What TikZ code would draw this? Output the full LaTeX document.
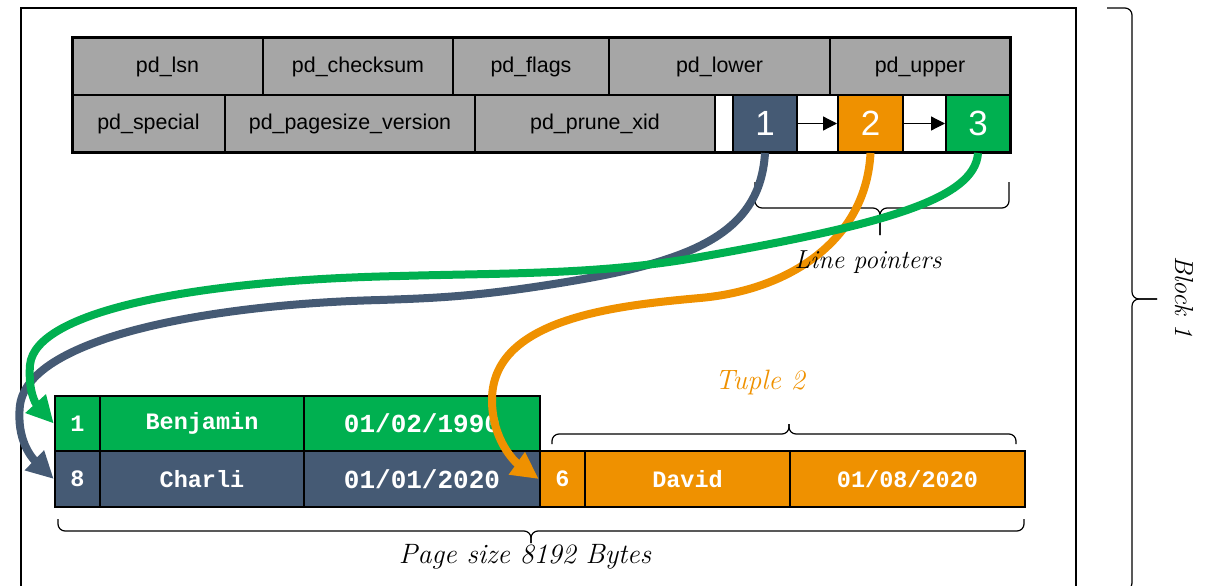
\documentclass[tikz,border=0pt]{standalone}
\usepackage{fontspec}
\newfontfamily\hdrfont{Liberation Sans}
\newfontfamily\monofont{Liberation Mono}
\usetikzlibrary{arrows.meta}
\definecolor{slate}{HTML}{455A74}
\definecolor{amber}{HTML}{EF9100}
\definecolor{leaf}{HTML}{00B050}
\definecolor{hdrgray}{HTML}{A6A6A6}
\tikzset{
  cell/.style={draw=black, line width=2pt, inner sep=0pt, rectangle},
  hcell/.style={cell, fill=hdrgray, font=\hdrfont\fontsize{21.4}{24}\selectfont},
  gapcell/.style={cell, fill=white},
  lpcell/.style={cell, text=white, font=\hdrfont\fontsize{35}{38}\selectfont},
  tcell/.style={cell, line width=2.5pt, text=white, font=\monofont\bfseries\fontsize{23.5}{26}\selectfont},
  bigdate/.style={font=\monofont\bfseries\fontsize{26}{28}\selectfont},
  bracket/.style={line width=1.2pt, rounded corners=7pt},
  pointer/.style={line width=8pt, -{Triangle[length=27pt,width=26pt]}},
  link/.style={line width=1.2pt, -{Triangle[length=14pt,width=14pt]}},
  note/.style={font=\itshape\fontsize{26}{29}\selectfont},
}
\begin{document}
\begin{tikzpicture}[x=1pt,y=-1pt]
\useasboundingbox (0,0) rectangle (1216,586);
\clip (0,0) rectangle (1216,586);

% block frame
\draw[line width=2.5pt] (21,590) -- (21,8) -- (1076,8) -- (1076,590);

% page header, first row
\node[hcell, minimum width=191pt, minimum height=57pt] (lsn) at (167.5,66.5) {pd\_lsn};
\node[hcell, minimum width=190pt, minimum height=57pt] (checksum) at (358,66.5) {pd\_checksum};
\node[hcell, minimum width=156pt, minimum height=57pt] (flags) at (531,66.5) {pd\_flags};
\node[hcell, minimum width=221pt, minimum height=57pt] (lower) at (719.5,66.5) {pd\_lower};
\node[hcell, minimum width=180pt, minimum height=57pt] (upper) at (920,66.5) {pd\_upper};

% page header, second row and line pointers
\node[hcell, minimum width=153pt, minimum height=57pt] (special) at (148.5,123.5) {pd\_special};
\node[hcell, minimum width=250pt, minimum height=57pt] (pagesize) at (350,123.5) {pd\_pagesize\_version};
\node[hcell, minimum width=240pt, minimum height=57pt] (prune) at (595,123.5) {pd\_prune\_xid};
\node[gapcell, minimum width=18pt, minimum height=57pt] (gap) at (724,123.5) {};
\node[lpcell, fill=slate, minimum width=64pt, minimum height=57pt] (b1) at (765,123.5) {1};
\node[gapcell, minimum width=41pt, minimum height=57pt] (w1) at (817.5,123.5) {};
\node[lpcell, fill=amber, minimum width=65pt, minimum height=57pt] (b2) at (870.5,123.5) {2};
\node[gapcell, minimum width=43pt, minimum height=57pt] (w2) at (924.5,123.5) {};
\node[lpcell, fill=leaf, minimum width=64pt, minimum height=57pt] (b3) at (978,123.5) {3};
\draw[line width=3pt] (72,38) rectangle (1010,152);

\draw[link] (b1.east) -- (b2.west);
\draw[link] (b2.east) -- (b3.west);

% tuples
\node[tcell, fill=leaf, minimum width=45pt, minimum height=55pt] (g1) at (77.5,423.5) {1};
\node[tcell, fill=leaf, minimum width=204pt, minimum height=55pt] (g2) at (202,423.5) {Benjamin};
\node[tcell, bigdate, fill=leaf, minimum width=236pt, minimum height=55pt] (g3) at (422,423.5) {01/02/1990};

\node[tcell, fill=slate, minimum width=45pt, minimum height=56pt] (d1) at (77.5,479) {8};
\node[tcell, fill=slate, minimum width=204pt, minimum height=56pt] (d2) at (202,479) {Charli};
\node[tcell, bigdate, fill=slate, minimum width=236pt, minimum height=56pt] (d3) at (422,479) {01/01/2020};

\node[tcell, fill=amber, minimum width=45pt, minimum height=56pt] (o1) at (562.5,479) {6};
\node[tcell, fill=amber, minimum width=205pt, minimum height=56pt] (o2) at (687.5,479) {David};
\node[tcell, fill=amber, minimum width=235pt, minimum height=56pt] (o3) at (907.5,479) {01/08/2020};

% braces
\draw[bracket] (755,182) |- (880,208) -- (880,235);
\draw[bracket] (1009,182) |- (880,208) -- (880,235);
\draw[bracket] (552,444) |- (789,434) -- (789,424);
\draw[bracket] (1016,444) |- (789,434) -- (789,424);
\draw[bracket] (58,519) |- (531,531) -- (531,543);
\draw[bracket] (1024,519) |- (531,531) -- (531,543);
\draw[bracket] (1107,8) -| (1132,299) -- (1157,299);
\draw[bracket] (1107,590) -| (1132,299) -- (1157,299);

% line pointers to their tuples
\draw[pointer, slate] (b1.south) .. controls (760,235) and (690,262) .. (560,283)
  .. controls (480,296) and (440,298) .. (380,300)
  .. controls (220,304) and (30,335) .. (20,405)
  .. controls (16,440) and (32,458) .. (d1.west);
\draw[pointer, amber] (b2.south) .. controls (866,240) and (790,290) .. (700,298)
  .. controls (610,306) and (492,320) .. (492,400)
  .. controls (492,440) and (515,462) .. (o1.west);
\draw[pointer, leaf] (b3.south) .. controls (975,200) and (880,225) .. (700,257)
  .. controls (600,275) and (500,273) .. (400,276)
  .. controls (200,280) and (35,310) .. (30,365)
  .. controls (28,392) and (36,404) .. (g1.west);

% labels
\node[note] (lp) at (868,262) {Line pointers};
\node[note, text=amber, font=\itshape\fontsize{28}{31}\selectfont] (t2) at (760,382) {Tuple 2};
\node[note, font=\itshape\fontsize{28}{31}\selectfont] (ps) at (525,557) {Page size 8192 Bytes};
\node[note, rotate=-90] (blk) at (1184,297) {Block 1};
\end{tikzpicture}
\end{document}
